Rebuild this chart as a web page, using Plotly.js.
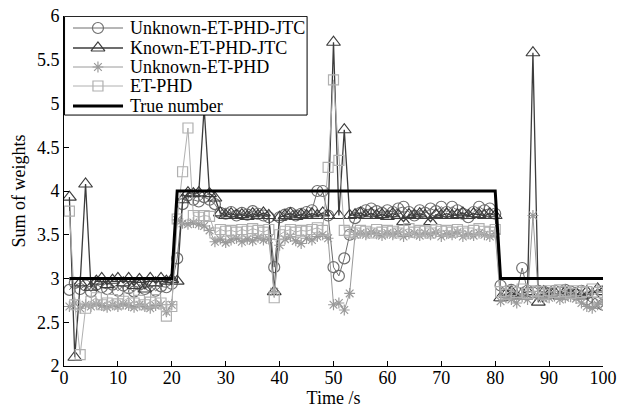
<!DOCTYPE html>
<html><head><meta charset="utf-8">
<script src="https://cdn.plot.ly/plotly-3.0.1.min.js"></script>
<style>html,body{margin:0;padding:0;background:#fff}#c{width:628px;height:408px}</style>
</head><body><div id="c"></div>
<script>
const time = [1,2,3,4,5,6,7,8,9,10,11,12,13,14,15,16,17,18,19,20,21,22,23,24,25,26,27,28,29,30,31,32,33,34,35,36,37,38,39,40,41,42,43,44,45,46,47,48,49,50,51,52,53,54,55,56,57,58,59,60,61,62,63,64,65,66,67,68,69,70,71,72,73,74,75,76,77,78,79,80,81,82,83,84,85,86,87,88,89,90,91,92,93,94,95,96,97,98,99,100];

const unknownJTC = [2.87,2.95,2.88,2.92,2.85,2.93,2.90,2.88,2.93,2.86,
2.92,2.89,2.85,2.93,2.88,2.92,2.86,2.91,2.90,2.94,
3.23,3.85,3.95,3.90,3.88,3.93,3.90,3.85,3.75,3.74,
3.76,3.72,3.75,3.73,3.77,3.74,3.72,3.70,3.13,3.70,
3.73,3.75,3.72,3.74,3.76,3.78,4.00,4.00,3.72,3.13,
3.03,3.23,3.50,3.69,3.75,3.78,3.80,3.77,3.75,3.78,
3.76,3.80,3.82,3.76,3.72,3.78,3.75,3.80,3.77,3.82,
3.76,3.82,3.78,3.74,3.70,3.76,3.82,3.78,3.80,3.74,
2.92,2.85,2.87,2.84,3.12,2.86,2.84,2.86,2.85,2.83,
2.86,2.84,2.87,2.85,2.82,2.86,2.76,2.72,2.72,2.70];

const knownJTC = [3.93,2.10,2.95,4.08,2.90,2.97,3.00,2.93,2.98,3.00,
2.95,3.00,2.92,2.99,2.88,3.00,2.95,3.00,2.97,2.99,
2.97,3.90,3.98,3.97,3.98,4.95,3.97,3.92,3.75,3.72,
3.74,3.72,3.73,3.71,3.74,3.72,3.75,3.72,2.85,3.70,
3.72,3.74,3.71,3.73,3.72,3.74,3.72,3.75,3.72,5.70,
3.72,4.70,3.72,3.73,3.75,3.72,3.74,3.72,3.73,3.71,
3.74,3.72,3.65,3.73,3.72,3.74,3.72,3.65,3.73,3.72,
3.74,3.72,3.73,3.75,3.72,3.74,3.73,3.72,3.74,3.72,
2.78,2.82,2.85,2.80,2.83,2.85,5.58,2.73,2.85,2.82,
2.84,2.80,2.85,2.82,2.83,2.80,2.85,2.82,2.88,2.85];

const unknownPHD = [2.68,2.72,2.66,2.70,2.68,2.71,2.69,2.67,2.70,2.68,
2.71,2.69,2.67,2.70,2.68,2.66,2.69,2.70,2.62,2.70,
3.67,3.63,3.62,3.64,3.62,3.60,3.55,3.42,3.45,3.41,
3.44,3.46,3.42,3.45,3.43,3.47,3.44,3.45,2.85,3.38,
3.45,3.48,3.43,3.40,3.46,3.44,3.48,3.50,3.46,2.70,
2.72,2.64,2.83,3.50,3.52,3.50,3.53,3.51,3.49,3.52,
3.50,3.53,3.48,3.51,3.52,3.49,3.52,3.50,3.53,3.48,
3.51,3.50,3.53,3.48,3.51,3.49,3.52,3.50,3.48,3.51,
2.74,2.78,2.76,2.72,2.79,2.76,3.72,2.80,2.77,2.78,
2.80,2.76,2.78,2.79,2.77,2.72,2.68,2.66,2.70,2.74];

const etPHD = [3.77,2.70,2.13,2.66,2.74,2.78,2.70,2.72,2.76,2.71,
2.74,2.78,2.72,2.75,2.70,2.73,2.76,2.72,2.57,2.68,
3.68,4.22,4.72,3.72,3.70,3.72,3.71,3.52,3.56,3.54,
3.55,3.53,3.56,3.54,3.57,3.55,3.53,3.56,2.78,3.50,
3.54,3.56,3.53,3.55,3.54,3.56,3.58,3.55,4.27,5.27,
4.35,3.55,3.53,3.52,3.55,3.54,3.52,3.56,3.53,3.55,
3.54,3.52,3.55,3.57,3.53,3.55,3.54,3.52,3.56,3.54,
3.55,3.53,3.56,3.54,3.52,3.55,3.57,3.54,3.53,3.56,
2.85,2.82,2.86,2.84,2.88,2.83,2.86,2.85,2.82,2.86,
2.84,2.87,2.85,2.83,2.86,2.84,2.85,2.88,2.84,2.86];

const trueNumber = [3,3,3,3,3,3,3,3,3,3,3,3,3,3,3,3,3,3,3,3,
4,4,4,4,4,4,4,4,4,4,4,4,4,4,4,4,4,4,4,4,
4,4,4,4,4,4,4,4,4,4,4,4,4,4,4,4,4,4,4,4,
4,4,4,4,4,4,4,4,4,4,4,4,4,4,4,4,4,4,4,4,
3,3,3,3,3,3,3,3,3,3,3,3,3,3,3,3,3,3,3,3];

const names = ['Unknown-ET-PHD-JTC','Known-ET-PHD-JTC','Unknown-ET-PHD','ET-PHD','True number'];
const xTicks = [0,10,20,30,40,50,60,70,80,90,100];
const yTicks = [2,2.5,3,3.5,4,4.5,5,5.5,6];

const F = '"Liberation Serif", "Times New Roman", "DejaVu Serif", serif';
const colors = ['#6e6e6e','#3c3c3c','#9a9a9a','#b0b0b0','#000000'];
const symbols = ['circle-open','triangle-up-open','asterisk-open','square-open'];
const series = [unknownJTC, knownJTC, unknownPHD, etPHD];
const msize = [11,12,9,10];

const traces = series.map((s,i)=>({
  x:time, y:s, name:names[i], mode:'lines+markers', showlegend:false,
  line:{color:colors[i], width:i===1?1.3:1},
  marker:{symbol:symbols[i], size:msize[i], color:colors[i], line:{width:1.2, color:colors[i]}}
}));
traces.push({x:time,y:trueNumber,name:names[4],mode:'lines',showlegend:false,line:{color:'#000',width:3}});

// manual legend key, drawn in a second (invisible) subplot covering the plot area, above the data
const L = {x0:0.001, x1:0.451, y0:0.717, y1:0.999, lineX0:0.0167, lineX1:0.1095, symX:0.063, textX:0.1187,
           rows:[0.9657,0.9086,0.8543,0.8,0.7429]};
const shapes = [{type:'rect',xref:'x2',yref:'y2',x0:L.x0,x1:L.x1,y0:L.y0,y1:L.y1,
  fillcolor:'#fff',line:{color:'#000',width:1},layer:'below'}];
const annotations = [];
names.forEach((n,i)=>{
  const yy = L.rows[i];
  shapes.push({type:'line',xref:'x2',yref:'y2',x0:L.lineX0,x1:L.lineX1,y0:yy,y1:yy,
    line:{color:colors[i],width:i===4?3:(i===1?1.6:1)},layer:'below'});
  annotations.push({xref:'paper',yref:'paper',x:L.textX,y:yy,xanchor:'left',yanchor:'middle',
    text:n,showarrow:false,font:{family:F,size:18,color:'#000'}});
});
series.forEach((s,i)=>{
  traces.push({x:[L.symX],y:[L.rows[i]],xaxis:'x2',yaxis:'y2',mode:'markers',showlegend:false,
    hoverinfo:'skip',cliponaxis:false,
    marker:{symbol:symbols[i],size:msize[i],color:colors[i],line:{width:1.2,color:colors[i]}}});
});

const layout = {
 width:628,height:408,margin:{l:64,r:25,t:16,b:42},
 paper_bgcolor:'#fff',plot_bgcolor:'rgba(0,0,0,0)',
 font:{family:F,size:18,color:'#000'},
 showlegend:false, shapes, annotations,
 xaxis:{range:[0,100],domain:[0,1],anchor:'y',tickvals:xTicks,ticktext:xTicks.map(String),ticks:'inside',ticklen:5,tickcolor:'#000',
   showline:true,linecolor:'#000',linewidth:1,showgrid:false,zeroline:false,ticklabelstandoff:-5,
   title:{text:'Time /s',font:{family:F,size:18},standoff:0},tickfont:{family:F,size:18}},
 yaxis:{range:[2,6],domain:[0,1],anchor:'x',tickvals:yTicks,ticktext:yTicks.map(String),ticks:'inside',ticklen:5,tickcolor:'#000',
   showline:true,linecolor:'#000',linewidth:1,showgrid:false,zeroline:false,
   title:{text:'Sum of weights',font:{family:F,size:18},standoff:6},tickfont:{family:F,size:18}},
 xaxis2:{domain:[0,1],anchor:'y2',range:[0,1],visible:false,fixedrange:true},
 yaxis2:{domain:[0,1],anchor:'x2',range:[0,1],visible:false,fixedrange:true}
};
Plotly.newPlot('c',traces,layout,{displayModeBar:false,staticPlot:true});
</script></body></html>
